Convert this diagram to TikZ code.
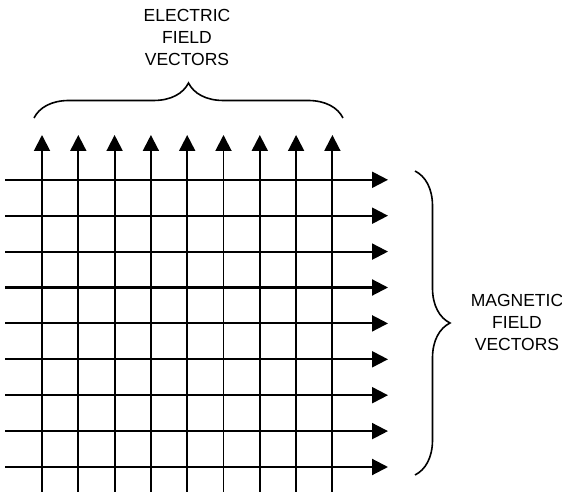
\documentclass[tikz,border=0pt]{standalone}
\usepackage{fontspec}
\setmainfont{Liberation Sans}
\usetikzlibrary{arrows.meta,positioning,decorations.pathreplacing}

\begin{document}
\begin{tikzpicture}[x=1pt,y=1pt,
    vec/.style={-{Triangle[length=16pt,width=16pt]}},
    curly/.style={decorate,decoration={brace,amplitude=35pt},line width=1.6pt},
    lbl/.style={align=center,font=\fontsize{17.5}{22}\selectfont}]
  \useasboundingbox (0,0) rectangle (562,492);
  % electric field vectors (vertical)
  \foreach \i in {0,...,8} {
    \coordinate (e\i-a) at ({42+36.3*\i},0);
    \coordinate (e\i-b) at ({42+36.3*\i},357);
    \draw[vec,line width=1.9pt] (e\i-a) -- (e\i-b);
  }
  % magnetic field vectors (horizontal)
  \foreach \j in {0,...,8} {
    \coordinate (m\j-a) at (5,{25+35.9*\j});
    \coordinate (m\j-b) at (388,{25+35.9*\j});
    \draw[vec,line width=2.1pt] (m\j-a) -- (m\j-b);
  }
  % braces and labels
  \coordinate (eb-l) at (34,374);
  \coordinate (eb-r) at (343,374);
  \draw[curly] (eb-l) -- (eb-r);
  \node[lbl] (efield) at (187,455) {ELECTRIC\\FIELD\\VECTORS};
  \coordinate (mb-t) at (415,321);
  \coordinate (mb-b) at (415,17);
  \draw[curly] (mb-t) -- (mb-b);
  \node[lbl] (mfield) at (517,170) {MAGNETIC\\FIELD\\VECTORS};
\end{tikzpicture}
\end{document}
